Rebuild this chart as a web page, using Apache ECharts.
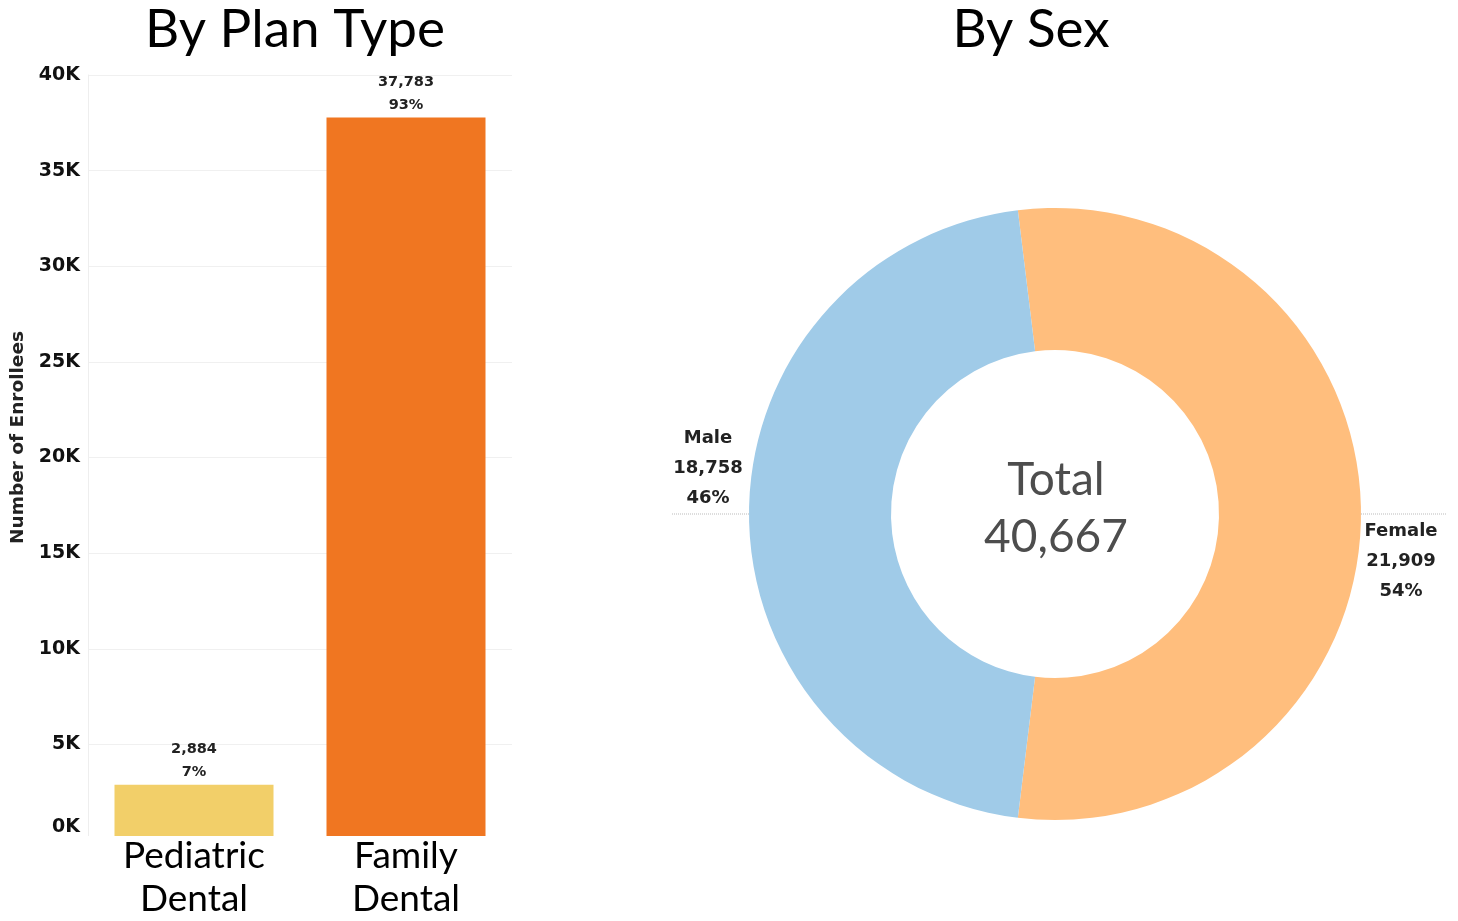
<!DOCTYPE html>
<html>
<head>
<meta charset="utf-8">
<script src="https://cdn.jsdelivr.net/npm/echarts@6/dist/echarts.min.js"></script>
<style>
html,body{margin:0;padding:0;background:#fff;}
#main{width:1458px;height:921px;}
</style>
</head>
<body>
<div id="main"></div>
<script>
// ---- data ----
const planCategories = ['Pediatric\nDental', 'Family\nDental'];
const planValues = [2884, 37783];
const planColors = ['#F2CF69', '#F07621'];
const yTicks = [0, 5000, 10000, 15000, 20000, 25000, 30000, 35000, 40000];
const sexNames = ['Female', 'Male'];
const sexValues = [21909, 18758];
const sexColors = ['#FFBE7D', '#A0CBE8'];

const fmt = n => n.toLocaleString('en-US');
const planTotal = planValues.reduce((a, b) => a + b, 0);
const sexTotal = sexValues.reduce((a, b) => a + b, 0);
const femaleShare = sexValues[0] / sexTotal;
const startAngle = 90 + (femaleShare * 360 - 180) / 2;

const chart = echarts.init(document.getElementById('main'));
chart.setOption({
  animation: false,
  backgroundColor: '#fff',
  title: [
    { text: 'By Plan Type', left: 290, top: -2, textAlign: 'center',
      textStyle: { fontFamily: 'Lato', fontWeight: 'normal', fontSize: 53, color: '#000' } },
    { text: 'By Sex', left: 1026, top: -2, textAlign: 'center',
      textStyle: { fontFamily: 'Lato', fontWeight: 'normal', fontSize: 53, color: '#000' } },
    { text: 'Total\n' + fmt(sexTotal), left: 1051, top: 447, textAlign: 'center',
      textStyle: { fontFamily: 'Lato', fontWeight: 'normal', fontSize: 46, lineHeight: 57, color: '#4d4d4d' } }
  ],
  grid: { left: 88, top: 75, width: 424, bottom: 78 },
  xAxis: {
    type: 'category',
    data: planCategories,
    z: 3,
    axisLine: { show: true, lineStyle: { color: '#ffffff', width: 9 } },
    axisTick: { show: false },
    axisLabel: { fontFamily: 'Lato', fontSize: 37, lineHeight: 43, color: '#000', margin: -5, interval: 0 }
  },
  yAxis: {
    type: 'value',
    min: 0, max: 40000, interval: 5000,
    name: 'Number of Enrollees',
    nameLocation: 'middle',
    nameGap: 60,
    nameTextStyle: { fontFamily: 'DejaVu Sans', fontWeight: 'bold', fontSize: 18.5, color: '#222', padding: [0, 0, 0, 40] },
    axisLine: { show: true, lineStyle: { color: '#eeeeee' } },
    axisTick: { show: false },
    splitLine: { lineStyle: { color: '#f0f0f0' } },
    axisLabel: {
      fontFamily: 'DejaVu Sans', fontWeight: 'bold', fontSize: 19, color: '#111', margin: 8,
      formatter: v => yTicks.includes(v) ? (v === 0 ? '{zero|0K}' : (v / 1000) + 'K') : '',
      rich: { zero: { fontFamily: 'DejaVu Sans', fontWeight: 'bold', fontSize: 19, color: '#111', padding: [0, 0, 25, 0] } }
    }
  },
  series: [
    {
      type: 'bar',
      barWidth: '75%',
      data: planValues.map((v, i) => ({ value: v, itemStyle: { color: planColors[i] } })),
      label: {
        show: true, position: 'top', distance: 1,
        fontFamily: 'DejaVu Sans', fontWeight: 'bold', fontSize: 14.5, lineHeight: 23, color: '#222',
        formatter: p => fmt(p.value) + '\n' + Math.round(p.value / planTotal * 100) + '%'
      }
    },
    {
      type: 'pie',
      center: [1055, 514],
      radius: [164, 306],
      startAngle: startAngle,
      clockwise: true,
      avoidLabelOverlap: false,
      data: sexNames.map((n, i) => ({ name: n, value: sexValues[i], itemStyle: { color: sexColors[i] } })),
      label: {
        show: true, position: 'outside', overflow: 'none', edgeDistance: 0,
        fontFamily: 'DejaVu Sans', fontWeight: 'bold', fontSize: 18, lineHeight: 30, color: '#222',
        align: 'center',
        formatter: p => p.name + '\n' + fmt(p.value) + '\n' + Math.round(p.value / sexTotal * 100) + '%'
      },
      labelLine: { show: true, length: 0, length2: 5, lineStyle: { color: '#bbbbbb', type: 'dotted', width: 1 } },
      labelLayout: function (params) {
        const pts = params.labelLinePoints;
        if (!pts) return {};
        const p0 = pts[0];
        const left = p0[0] < 1055;
        return {
          x: left ? p0[0] - 41 : p0[0] + 40,
          y: left ? p0[1] - 1 : p0[1] + 2,
          align: 'center',
          verticalAlign: left ? 'bottom' : 'top',
          labelLinePoints: [[p0[0], p0[1]], [left ? p0[0] - 77 : p0[0] + 86, p0[1]]]
        };
      },
      emphasis: { disabled: true }
    }
  ]
});
</script>
</body>
</html>
